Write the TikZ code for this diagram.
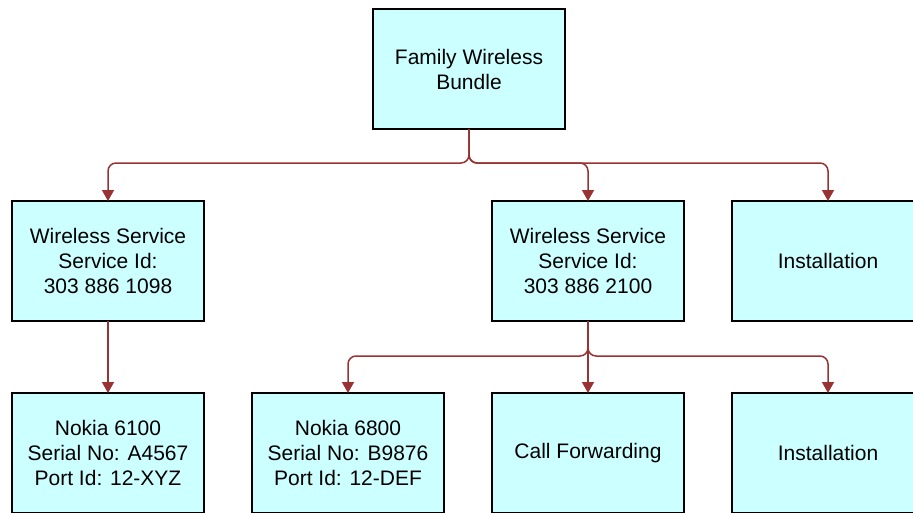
\documentclass[tikz,border=0pt]{standalone}
\usepackage{fontspec}
\setmainfont{Liberation Sans}
\usetikzlibrary{positioning,arrows.meta}
\definecolor{boxfill}{HTML}{CCFFFF}
\definecolor{linkred}{HTML}{993333}

\begin{document}
\begin{tikzpicture}[x=1pt,y=1pt,node distance=72pt and 48pt,
  >={Triangle[length=11pt,width=12pt]},
  item/.style={draw,line width=1.4pt,fill=boxfill,minimum width=192pt,minimum height=120pt,
    align=center,outer sep=0pt,font=\fontsize{21}{25}\selectfont},
  link/.style={->,linkred,line width=1.5pt,rounded corners=8pt}]
\useasboundingbox (0,0) rectangle (913,-512);
\node[item] (nok1) at (108,-453) {Nokia 6100\\Serial No: A4567\\Port Id: 12-XYZ};
\node[item] (nok2) [right=of nok1] {Nokia 6800\\Serial No: B9876\\Port Id: 12-DEF};
\node[item] (fwd) [right=of nok2] {Call Forwarding};
\node[item] (inst2) [right=of fwd] {Installation};
\node[item] (ws1) [above=of nok1] {Wireless Service\\Service Id:\\303 886 1098};
\node[item] (ws2) [above=of fwd] {Wireless Service\\Service Id:\\303 886 2100};
\node[item] (inst1) [above=of inst2] {Installation};
\node[item] (fam) at (469,-69) {Family Wireless\\Bundle};
\draw[link] (fam.south) -- ([yshift=-34pt]fam.south) -| (ws1.north);
\draw[link] (fam.south) -- ([yshift=-34pt]fam.south) -| (ws2.north);
\draw[link] (fam.south) -- ([yshift=-34pt]fam.south) -| (inst1.north);
\draw[link] (ws1.south) -- (nok1.north);
\draw[link] (ws2.south) -- ([yshift=-35pt]ws2.south) -| (nok2.north);
\draw[link] (ws2.south) -- (fwd.north);
\draw[link] (ws2.south) -- ([yshift=-35pt]ws2.south) -| (inst2.north);
\end{tikzpicture}
\end{document}
